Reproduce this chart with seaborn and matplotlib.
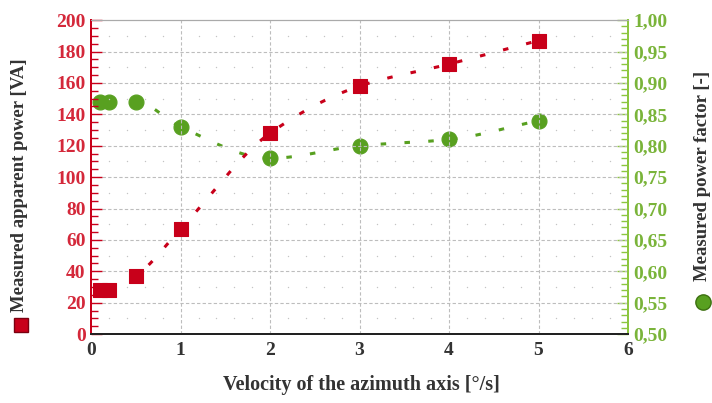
import numpy as np
import pandas as pd
import matplotlib
matplotlib.use("Agg")
import matplotlib.pyplot as plt
from matplotlib.lines import Line2D
from matplotlib.ticker import MultipleLocator, FuncFormatter
import seaborn as sns

# ---- data ----
velocity = [0.1, 0.2, 0.5, 1, 2, 3, 4, 5]
apparent_power = [28, 28, 37, 67, 128, 158, 172, 187]
power_factor = [0.87, 0.87, 0.87, 0.83, 0.78, 0.80, 0.81, 0.84]

x_label = "Velocity of the azimuth axis [°/s]"
left_label = "Measured apparent power [VA]"
right_label = "Measured power factor [-]"

RED = "#c8001a"
RED_TXT = "#d4283a"
GREEN = "#58a020"
GREEN_TXT = "#7ab43a"
GREEN_AX = "#8cc63f"

sns.set_style("white")
plt.rcParams["font.family"] = ["Liberation Serif", "DejaVu Serif"]
plt.rcParams["font.weight"] = "bold"


def pchip(x, y, xn):
    x = np.asarray(x, float); y = np.asarray(y, float)
    h = np.diff(x); d = np.diff(y) / h
    m = np.zeros_like(y)
    for k in range(1, len(x) - 1):
        if d[k - 1] * d[k] <= 0:
            m[k] = 0
        else:
            w1 = 2 * h[k] + h[k - 1]; w2 = h[k] + 2 * h[k - 1]
            m[k] = (w1 + w2) / (w1 / d[k - 1] + w2 / d[k])
    m[0] = d[0]; m[-1] = d[-1]
    out = np.empty_like(xn)
    for i, xv in enumerate(xn):
        k = min(np.searchsorted(x, xv, side="right") - 1, len(x) - 2)
        k = max(k, 0)
        t = (xv - x[k]) / h[k]
        h00 = 2*t**3 - 3*t**2 + 1; h10 = t**3 - 2*t**2 + t
        h01 = -2*t**3 + 3*t**2; h11 = t**3 - t**2
        out[i] = h00*y[k] + h10*h[k]*m[k] + h01*y[k+1] + h11*h[k]*m[k+1]
    return out


xs = np.linspace(velocity[1], velocity[-1], 300)
df = pd.DataFrame({"v": velocity, "p": apparent_power, "pf": power_factor})
curve = pd.DataFrame({"v": xs, "p": pchip(velocity, apparent_power, xs),
                      "pf": pchip(velocity, power_factor, xs)})

fig = plt.figure(figsize=(7.12, 4.03), dpi=100)
ax = fig.add_axes([0.128, 0.171, 0.754, 0.779])
ax2 = ax.twinx()

ax.set_xlim(0, 6)
ax.set_ylim(0, 200)
ax2.set_ylim(0.5, 1.0)

# grid
GRID = "#bdbdbd"
for gx in range(1, 6):
    ax.axvline(gx, color=GRID, lw=0.8, ls=(0, (3, 2)), zorder=0)
for gy in range(20, 200, 20):
    ax.axhline(gy, color=GRID, lw=0.8, ls=(0, (3, 2)), zorder=0)
mx = [i * 0.2 for i in range(1, 30) if i % 5 != 0]
my = [10 + 20 * j for j in range(10)]
MX, MY = np.meshgrid(mx, my)
ax.scatter(MX.ravel(), MY.ravel(), s=1.0, color="#c4c4c4", zorder=0, linewidths=0)

# curves
sns.lineplot(data=curve, x="v", y="pf", ax=ax2, color=GREEN, lw=2.2,
             linestyle=(0, (1.8, 6)), zorder=2, legend=False)
sns.lineplot(data=curve, x="v", y="p", ax=ax, color=RED, lw=2.2,
             linestyle=(0, (1.8, 6)), zorder=2, legend=False)
sns.scatterplot(data=df, x="v", y="pf", ax=ax2, color=GREEN, marker="o",
                s=115, edgecolor=GREEN, zorder=3, legend=False)
sns.scatterplot(data=df, x="v", y="p", ax=ax, color=RED, marker="s",
                s=95, edgecolor=RED, zorder=3, legend=False)
ax.set_zorder(ax2.get_zorder() + 1)
ax.patch.set_visible(False)

# axes styling
ax.xaxis.set_major_locator(MultipleLocator(1))
ax.xaxis.set_minor_locator(MultipleLocator(0.2))
ax.yaxis.set_major_locator(MultipleLocator(20))
ax.yaxis.set_minor_locator(MultipleLocator(5))
ax2.yaxis.set_major_locator(MultipleLocator(0.05))
ax2.yaxis.set_minor_locator(MultipleLocator(0.01))
ax2.yaxis.set_major_formatter(FuncFormatter(lambda v, p: f"{v:.2f}".replace(".", ",")))

ax.tick_params(axis="x", which="both", direction="in", color="#222222", width=1.2,
               labelsize=14, labelcolor="#333333", pad=6)
ax.tick_params(axis="x", which="major", length=8)
ax.tick_params(axis="x", which="minor", length=5)
ax.tick_params(axis="y", which="both", direction="in", color=RED, width=1.0,
               labelsize=14, labelcolor=RED_TXT, pad=4)
ax.tick_params(axis="y", which="major", length=8)
ax.tick_params(axis="y", which="minor", length=5)
ax2.tick_params(axis="y", which="both", direction="in", color=GREEN_AX, width=1.0,
                labelsize=14, labelcolor=GREEN_TXT, pad=4)
ax2.tick_params(axis="y", which="major", length=8)
ax2.tick_params(axis="y", which="minor", length=5)
for lab in ax.get_xticklabels() + ax.get_yticklabels() + ax2.get_yticklabels():
    lab.set_fontweight("bold")

for a in (ax, ax2):
    a.spines["top"].set_color("#aaaaaa")
    a.spines["top"].set_linewidth(0.8)
    a.spines["bottom"].set_color("#222222")
    a.spines["bottom"].set_linewidth(1.4)
    a.spines["left"].set_color(RED)
    a.spines["left"].set_linewidth(1.4)
    a.spines["right"].set_color(GREEN_AX)
    a.spines["right"].set_linewidth(1.4)

ax.set_xlabel("")
ax.set_ylabel("")
ax2.set_ylabel("")

fig.text(0.507, 0.045, x_label, ha="center", va="center", fontsize=14.5,
         fontweight="bold", color="#333333")
fig.text(0.028, 1 - 185 / 403, left_label, rotation=90, ha="center", va="center",
         fontsize=13.5, fontweight="bold", color="#333333")
fig.text(0.987, 1 - 176 / 403, right_label, rotation=90, ha="center", va="center",
         fontsize=13.5, fontweight="bold", color="#333333")

fig.add_artist(Line2D([0.030], [1 - 325 / 403], marker="s", markersize=10,
                      color=RED, markeredgecolor="#7a0010", transform=fig.transFigure))
fig.add_artist(Line2D([0.987], [1 - 302 / 403], marker="o", markersize=11,
                      color=GREEN, markeredgecolor="#3c7010", transform=fig.transFigure))

fig.savefig("out.png", dpi=100)
